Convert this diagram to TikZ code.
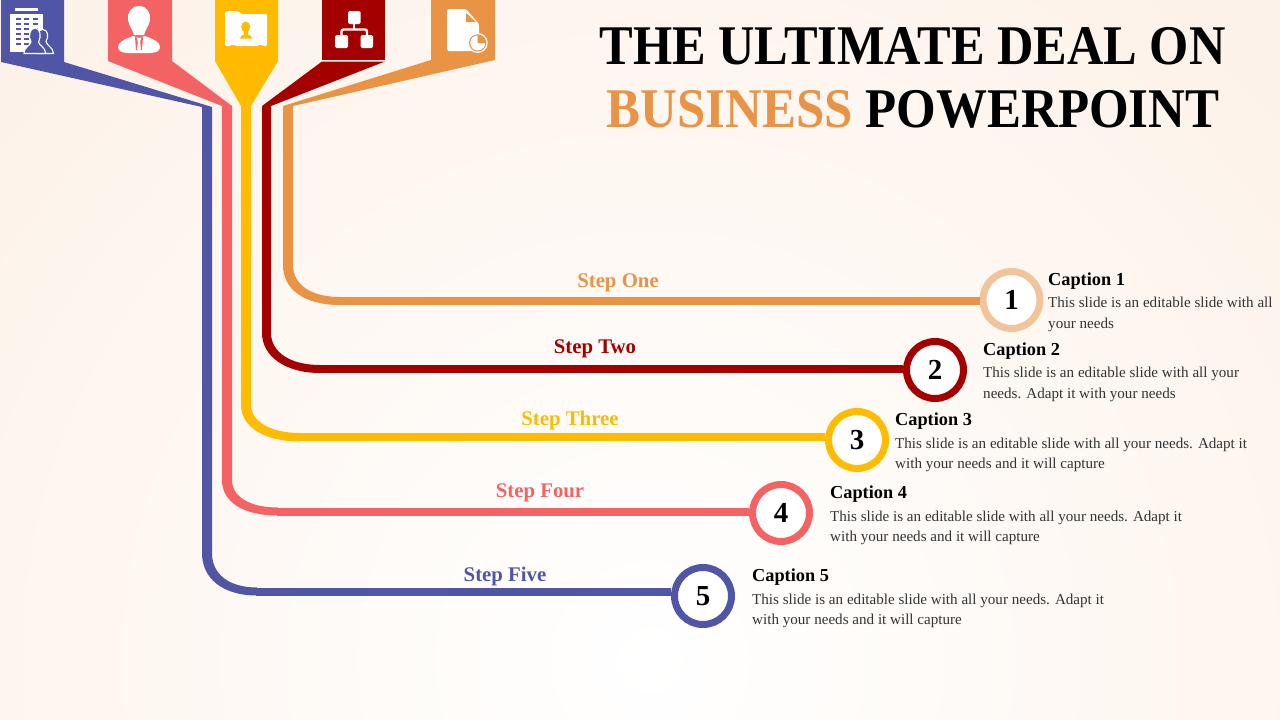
\documentclass[tikz,border=0pt]{standalone}
\usepackage{fontspec}
\setmainfont{Liberation Serif}
\definecolor{bgc}{HTML}{FDF2E9}
\definecolor{cblue}{HTML}{5155A5}
\definecolor{cred}{HTML}{F46363}
\definecolor{cyel}{HTML}{FFBB00}
\definecolor{cdark}{HTML}{A40000}
\definecolor{cora}{HTML}{E99345}
\definecolor{cring}{HTML}{F2C49B}
\definecolor{ctxt}{HTML}{333333}
\newcommand{\fs}[1]{\fontsize{#1pt}{#1pt}\selectfont}
\tikzset{
  ringnode/.style={circle,draw=#1,line width=7pt,fill=white,minimum size=57pt,inner sep=0pt,font=\fs{29}\bfseries,text=black},
  wire/.style={line width=8pt,draw=#1},
  steplabel/.style={anchor=base,font=\fs{20.8}\bfseries,text=#1},
  caphead/.style={anchor=base west,font=\fs{18.3}\bfseries,text=black,inner sep=0pt},
  capbody/.style={anchor=base west,font=\fs{15.1},text=ctxt,inner sep=0pt,align=left},
  titleline/.style={anchor=base,font=\fs{56}\bfseries,text=black,inner sep=0pt},
  backperson/.style={fill=cblue,draw=white,line width=1.1pt},
}
\begin{document}
\begin{tikzpicture}[x=1pt,y=-1pt]
\useasboundingbox (0,0) rectangle (1280,720);
\fill[bgc] (0,0) rectangle (1280,720);
\begin{scope}
\clip (0,0) rectangle (1280,720);
\shade[inner color=white,outer color=bgc] (650,660) circle (860pt);
\end{scope}

% banners with tails
\fill[cblue] (1,0) -- (64,0) -- (64,62) -- (212,107) -- (212,553) .. controls (212,575) and (230,587.5) .. (257,587.5) -- (257,595.5) .. controls (222,595.5) and (202,578) .. (202,553) -- (202,107) -- (1,62) -- cycle;
\fill[cred] (108,0) -- (172,0) -- (172,61) -- (232,106) -- (232,480) .. controls (232,497) and (250,507.5) .. (278,507.5) -- (278,515.5) .. controls (243,515.5) and (222,502) .. (222,480) -- (222,106) -- (108,61) -- cycle;
\fill[cyel] (215,0) -- (278,0) -- (278,61) -- (251,106) -- (251,405) .. controls (251,421) and (270,433) .. (300,433) -- (300,441.5) .. controls (263,441.5) and (241,426) .. (241,405) -- (241,106) -- (215,61) -- cycle;
\fill[cdark] (322,0) -- (385,0) -- (385,60) -- (322,60) -- cycle;
\fill[cdark] (322,61.5) -- (385,61.5) -- (271,106) -- (271,333) .. controls (271,352) and (290,365) .. (320,365) -- (320,373) .. controls (285,373) and (262,356) .. (262,333) -- (262,106) -- cycle;
\fill[cora] (431,0) -- (495,0) -- (495,60) -- (293,106) -- (293,265) .. controls (293,284) and (310,297) .. (340,297) -- (340,305) .. controls (305,305) and (283,290) .. (283,265) -- (283,106) -- (431,60) -- cycle;

% end points of the curved parts
\coordinate (b1) at (339,301);
\coordinate (b2) at (319,369);
\coordinate (b3) at (299,436.5);
\coordinate (b4) at (277,511.5);
\coordinate (b5) at (256,591.5);

% numbered circles
\node[ringnode=cring] (n1) at (1011.5,300) {1};
\node[ringnode=cdark] (n2) at (935,370) {2};
\node[ringnode=cyel] (n3) at (857,440) {3};
\node[ringnode=cred] (n4) at (781,513) {4};
\node[ringnode=cblue] (n5) at (703,596) {5};

\draw[wire=cora] (b1) -- (b1 -| n1.west);
\draw[wire=cdark] (b2) -- (b2 -| n2.west);
\draw[wire=cyel] (b3) -- (b3 -| n3.west);
\draw[wire=cred] (b4) -- (b4 -| n4.west);
\draw[wire=cblue] (b5) -- (b5 -| n5.west);

% step labels
\node[steplabel=cora] (s1) at (618,287) {Step One};
\node[steplabel=cdark] (s2) at (595,353) {Step Two};
\node[steplabel=cyel] (s3) at (570,425) {Step Three};
\node[steplabel=cred] (s4) at (540,497) {Step Four};
\node[steplabel=cblue] (s5) at (505,581) {Step Five};

% captions
\node[caphead] (h1) at (1048,285) {Caption 1};
\node[capbody] (t1a) at (1048,307) {This slide is an editable slide with all};
\node[capbody] (t1b) at (1048,328) {your needs};
\node[caphead] (h2) at (983,355) {Caption 2};
\node[capbody] (t2a) at (983,377) {This slide is an editable slide with all your};
\node[capbody] (t2b) at (983,398) {needs. Adapt it with your needs};
\node[caphead] (h3) at (895,425) {Caption 3};
\node[capbody] (t3a) at (895,448) {This slide is an editable slide with all your needs. Adapt it};
\node[capbody] (t3b) at (895,468) {with your needs and it will capture};
\node[caphead] (h4) at (830,498) {Caption 4};
\node[capbody] (t4a) at (830,521) {This slide is an editable slide with all your needs. Adapt it};
\node[capbody] (t4b) at (830,541) {with your needs and it will capture};
\node[caphead] (h5) at (752,581) {Caption 5};
\node[capbody] (t5a) at (752,604) {This slide is an editable slide with all your needs. Adapt it};
\node[capbody] (t5b) at (752,624) {with your needs and it will capture};

% title
\node[titleline] (ti1) at (912.5,64) {\scalebox{0.90}[1]{THE ULTIMATE DEAL ON}};
\node[titleline] (ti2) at (913,127) {\scalebox{0.91}[1]{\textcolor{cora}{BUSINESS} POWERPOINT}};

% icon 1: building and people
\fill[white] (15,8) rectangle (38,11);
\fill[white] (10,13.5) rectangle (43,52);
\foreach \yy in {18,23,28,33,38,43}{
  \foreach \xx in {16,24,33}{
    \fill[cblue] (\xx,\yy) rectangle ++(4.5,2);
  }
}
% back person
\filldraw[backperson] (43,29.5) .. controls (48,29.5) and (49,37) .. (46,41.5) .. controls (47,46) and (53,47) .. (53.5,53.5) -- (36,53.5) -- (36,35) .. controls (37,31) and (40,29.5) .. (43,29.5) -- cycle;
% front person
\filldraw[backperson] (35,28) .. controls (40.5,28) and (41.5,37) .. (38.5,42) .. controls (39.5,46) and (45,46.5) .. (45.5,53.5) -- (24,53.5) .. controls (24.5,46.5) and (30,46) .. (31,42) .. controls (28,37) and (29.5,28) .. (35,28) -- cycle;

% icon 2: person with tie
\fill[white] (139,6) .. controls (147,6) and (151,13) .. (150,20) .. controls (149,26) and (145,30) .. (144,35) -- (134,35) .. controls (133,30) and (129,26) .. (128,20) .. controls (127,13) and (131,6) .. (139,6) -- cycle;
\fill[white] (133,36) .. controls (125,39) and (118,42) .. (118,47) .. controls (118,51) and (122,53) .. (128,53) -- (150,53) .. controls (156,53) and (160,51) .. (160,47) .. controls (160,42) and (153,39) .. (145,36) -- (139,38) -- cycle;
\fill[cred] (135,37) -- (137,37.5) -- (137.5,40) -- (139,50) -- (136,50) -- cycle;
\fill[cred] (143,37) -- (141,37.5) -- (140.5,40) -- (139,50) -- (142,50) -- cycle;
\fill[white] (137,38) -- (141,38) -- (140,41) -- (141,49) -- (139,51) -- (137,49) -- (138,41) -- cycle;

% icon 3: card with person
\fill[white,rounded corners=1.5pt] (225,11) -- (238,11) -- (241,14) -- (267,14) -- (267,46) -- (262.5,46) -- (260.5,44) -- (258,46) -- (235,46) -- (233,44) -- (230.5,46) -- (225,46) -- cycle;
\fill[cyel] (245.7,27) ellipse (4.5pt and 5.5pt);
\fill[cyel] (243.7,30) rectangle (247.7,35);
\fill[cyel] (240,38.5) .. controls (240,35.5) and (243,34.5) .. (245.7,34) .. controls (248.5,34.5) and (252,35.5) .. (252,38.5) -- cycle;

% icon 4: organisation chart
\fill[white,rounded corners=1.5pt] (348,11) rectangle (360.5,24);
\fill[white,rounded corners=1.5pt] (335,35) rectangle (348,48);
\fill[white,rounded corners=1.5pt] (360.5,35) rectangle (373,48);
\draw[white,line width=2.4pt] (354.2,24) -- (354.2,29.5);
\draw[white,line width=2.4pt,rounded corners=2pt] (341.5,35) -- (341.5,29.5) -- (367,29.5) -- (367,35);

% icon 5: document with pie
\fill[white,rounded corners=1.5pt] (447,9) -- (466,9) -- (479,24) -- (479,51) -- (447,51) -- cycle;
\fill[cora] (466,13) -- (466,22) -- (476,22) -- cycle;
\fill[white] (477.7,43) circle (10pt);
\fill[cora] (477.7,43) circle (8.7pt);
\fill[white] (477.7,43) circle (7.5pt);
\fill[cora] (477.7,43) -- (477.7,35) arc[start angle=-90,end angle=0,radius=8] -- cycle;
\end{tikzpicture}
\end{document}
